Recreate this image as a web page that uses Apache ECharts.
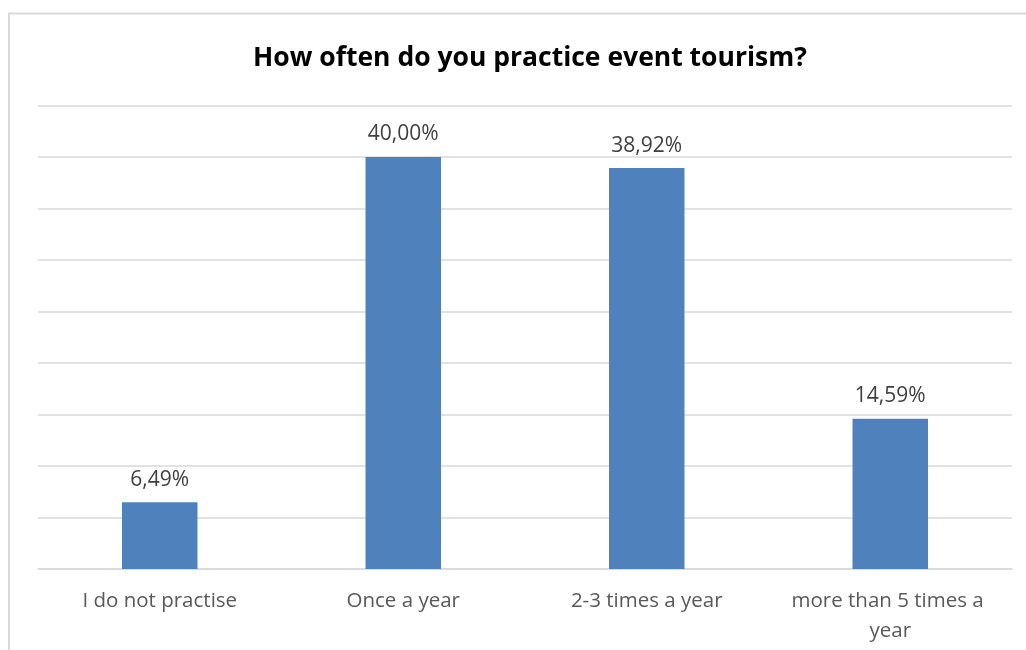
<!DOCTYPE html>
<html>
<head>
<meta charset="utf-8">
<script src="https://cdn.jsdelivr.net/npm/echarts@6/dist/echarts.min.js"></script>
<style>
  html, body { margin: 0; padding: 0; background: #fff; }
  #chart { width: 1026px; height: 650px; }
</style>
</head>
<body>
<div id="chart"></div>
<script>
// Survey answers and the share of respondents for each
const categories = ['I do not practise', 'Once a year', '2-3 times a year', 'more than 5 times a year'];
const shares = [6.49, 40.00, 38.92, 14.59];
const chartTitle = 'How often do you practice event tourism?';

const fmtPct = v => v.toFixed(2).replace('.', ',') + '%';

const chart = echarts.init(document.getElementById('chart'), null, { renderer: 'canvas' });
chart.setOption({
  animation: false,
  backgroundColor: '#ffffff',
  title: {
    text: chartTitle,
    left: 248,
    top: 40,
    textStyle: {
      fontFamily: 'Open Sans',
      fontWeight: 'bold',
      fontSize: 26.5,
      color: '#000000'
    }
  },
  graphic: [{
    type: 'rect',
    shape: { x: 9, y: 13.5, width: 1040, height: 700 },
    style: { fill: 'none', stroke: '#d9d9d9', lineWidth: 2 },
    silent: true
  }],
  grid: { left: 38, right: 14, top: 105.5, bottom: 81, containLabel: false },
  xAxis: {
    type: 'category',
    data: categories,
    axisTick: { show: false },
    axisLine: { show: true, lineStyle: { color: '#d9d9d9', width: 1.5 } },
    axisLabel: {
      color: '#595959',
      fontFamily: 'Open Sans',
      fontSize: 20.5,
      margin: 17,
      lineHeight: 30,
      width: 225,
      overflow: 'break',
      interval: 0
    }
  },
  yAxis: {
    type: 'value',
    min: 0,
    max: 45,
    interval: 5,
    axisLabel: { show: false },
    axisLine: { show: false },
    axisTick: { show: false },
    splitLine: { lineStyle: { color: '#d9d9d9', width: 1.5 } }
  },
  series: [{
    type: 'bar',
    data: shares,
    barWidth: '31%',
    itemStyle: { color: '#4f81bd' },
    label: {
      show: true,
      position: 'top',
      distance: 12,
      formatter: p => fmtPct(p.value),
      color: '#404040',
      fontFamily: 'Open Sans',
      fontSize: 21
    }
  }]
});
</script>
</body>
</html>
